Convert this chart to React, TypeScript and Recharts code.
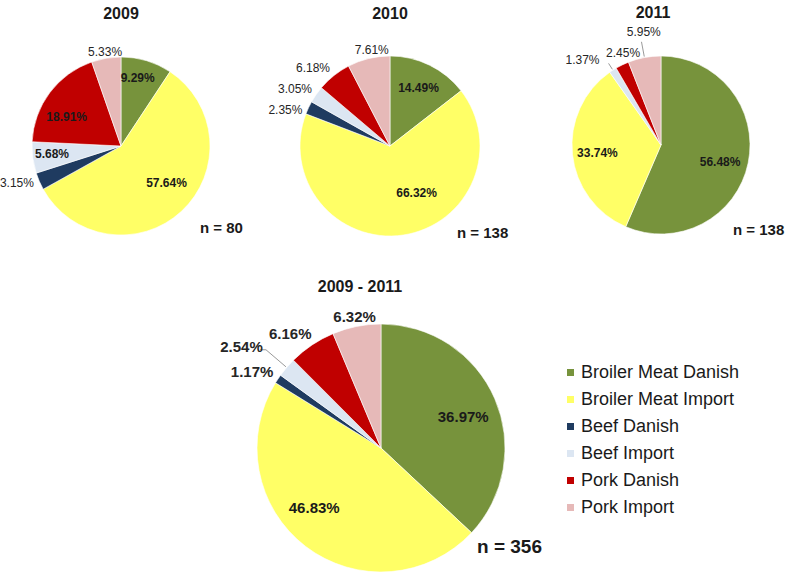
import { PieChart, Pie, Cell } from 'recharts';

const CATEGORIES = [
  'Broiler Meat Danish',
  'Broiler Meat Import',
  'Beef Danish',
  'Beef Import',
  'Pork Danish',
  'Pork Import',
];
const COLORS = ['#77933c', '#ffff66', '#1f3b60', '#dce6f2', '#c00000', '#e6b9b8'];

const SHARE_2009 = [9.29, 57.64, 3.15, 5.68, 18.91, 5.33];
const SHARE_2010 = [14.49, 66.32, 2.35, 3.05, 6.18, 7.61];
const SHARE_2011 = [56.48, 33.74, 0, 1.37, 2.45, 5.95];
const SHARE_TOTAL = [36.97, 46.83, 1.17, 2.54, 6.16, 6.32];

const PANEL_TITLES = ['2009', '2010', '2011', '2009 - 2011'];
const SAMPLE_SIZES = [80, 138, 138, 356];

const FONT = '"Liberation Sans", Arial, sans-serif';
const RADIAN = Math.PI / 180;

// label placement: r = radius factor, s = clockwise shift (deg), l = leader line end factor
type Place = { r: number; s: number; l?: number };

const panels = [
  {
    values: SHARE_2009, cx: 121, cy: 146, radius: 89, fontSize: 12,
    title: { x: 121, y: 14 }, n: { x: 200, y: 228, size: 15 },
    place: [
      { r: 0.79, s: -3 }, { r: 0.66, s: -8 }, { r: 1.24, s: 4 },
      { r: 0.78, s: 1 }, { r: 0.69, s: -9 }, { r: 1.07, s: 0 },
    ] as Place[],
  },
  {
    values: SHARE_2010, cx: 390, cy: 146, radius: 90, fontSize: 12,
    title: { x: 390, y: 14 }, n: { x: 457, y: 233, size: 15 },
    place: [
      { r: 0.72, s: 0 }, { r: 0.6, s: -21 }, { r: 1.23, s: -6 },
      { r: 1.23, s: -4 }, { r: 1.22, s: -6 }, { r: 1.09, s: 3 },
    ] as Place[],
  },
  {
    values: SHARE_2011, cx: 661, cy: 145, radius: 89, fontSize: 12,
    title: { x: 653, y: 13 }, n: { x: 733, y: 230, size: 15 },
    place: [
      { r: 0.69, s: 4 }, { r: 0.72, s: -1 }, { r: 1.2, s: 0 },
      { r: 1.3, s: -10, l: 1.09 }, { r: 1.12, s: 3.5 }, { r: 1.28, s: 2, l: 1.18 },
    ] as Place[],
  },
  {
    values: SHARE_TOTAL, cx: 381, cy: 448, radius: 124, fontSize: 15,
    title: { x: 360, y: 287 }, n: { x: 477, y: 547, size: 19 },
    place: [
      { r: 0.71, s: 2.5 }, { r: 0.72, s: 11 }, { r: 1.21, s: -3 },
      { r: 1.39, s: -4.5, l: 1.22 }, { r: 1.18, s: -4.5 }, { r: 1.08, s: 0 },
    ] as Place[],
  },
];

function makeLabel(place: Place[], fontSize: number, bigOutside: boolean) {
  return (props: any) => {
    const { cx, cy, midAngle, outerRadius, value, index } = props;
    if (!value) return null;
    const p = place[index];
    const a = midAngle - p.s;
    const R = outerRadius * p.r;
    const x = cx + R * Math.cos(a * RADIAN);
    const y = cy - R * Math.sin(a * RADIAN);
    const outside = p.r > 1;
    let leader = null;
    if (p.l) {
      const ex = cx + (outerRadius + 1) * Math.cos(midAngle * RADIAN);
      const ey = cy - (outerRadius + 1) * Math.sin(midAngle * RADIAN);
      const lx = cx + outerRadius * p.l * Math.cos(midAngle * RADIAN);
      const ly = cy - outerRadius * p.l * Math.sin(midAngle * RADIAN);
      const pts = bigOutside ? `${ex},${ey} ${lx},${ly} ${lx - 6},${ly}` : `${ex},${ey} ${lx},${ly}`;
      leader = <polyline points={pts} fill="none" stroke="#7f7f7f" strokeWidth={0.8} />;
    }
    return (
      <g key={`lbl-${index}`}>
        {leader}
        <text
          x={x}
          y={y}
          textAnchor="middle"
          dominantBaseline="central"
          fontFamily={FONT}
          fontSize={fontSize}
          fontWeight={outside && !bigOutside ? 'normal' : 'bold'}
          fill={outside ? '#262626' : '#1a1a1a'}
        >
          {`${value.toFixed(2)}%`}
        </text>
      </g>
    );
  };
}

export default function App() {
  return (
    <div style={{ position: 'absolute', left: 0, top: 0, width: 787, height: 573, background: '#fff', fontFamily: FONT }}>
      <PieChart width={787} height={573} margin={{ top: 0, right: 0, bottom: 0, left: 0 }}>
        {panels.map((pn, i) => (
          <Pie
            key={PANEL_TITLES[i]}
            data={CATEGORIES.map((name, k) => ({ name, value: pn.values[k] }))}
            dataKey="value"
            nameKey="name"
            cx={pn.cx}
            cy={pn.cy}
            outerRadius={pn.radius}
            startAngle={90}
            endAngle={-270}
            stroke="#ffffff"
            strokeWidth={0.6}
            isAnimationActive={false}
            labelLine={false}
            label={makeLabel(pn.place, pn.fontSize, i === 3)}
          >
            {CATEGORIES.map((name, k) => (
              <Cell key={name} fill={COLORS[k]} />
            ))}
          </Pie>
        ))}
      </PieChart>

      {panels.map((pn, i) => (
        <div
          key={`t-${i}`}
          style={{
            position: 'absolute', left: pn.title.x - 70, width: 140, top: pn.title.y - 10,
            textAlign: 'center', fontSize: 16, fontWeight: 'bold', color: '#1a1a1a', lineHeight: '20px',
          }}
        >
          {PANEL_TITLES[i]}
        </div>
      ))}

      {panels.map((pn, i) => (
        <div
          key={`n-${i}`}
          style={{
            position: 'absolute', left: pn.n.x, top: pn.n.y - pn.n.size * 0.65,
            fontSize: pn.n.size, fontWeight: 'bold', color: '#1a1a1a', lineHeight: `${pn.n.size * 1.3}px`,
            whiteSpace: 'nowrap',
          }}
        >
          {`n = ${SAMPLE_SIZES[i]}`}
        </div>
      ))}

      <div style={{ position: 'absolute', left: 567, top: 359 }}>
        {CATEGORIES.map((name, k) => (
          <div key={name} style={{ display: 'flex', alignItems: 'center', height: 27, fontSize: 18, color: '#1a1a1a' }}>
            <span style={{ width: 7, height: 7, background: COLORS[k], marginRight: 7, display: 'inline-block' }} />
            <span>{name}</span>
          </div>
        ))}
      </div>
    </div>
  );
}
